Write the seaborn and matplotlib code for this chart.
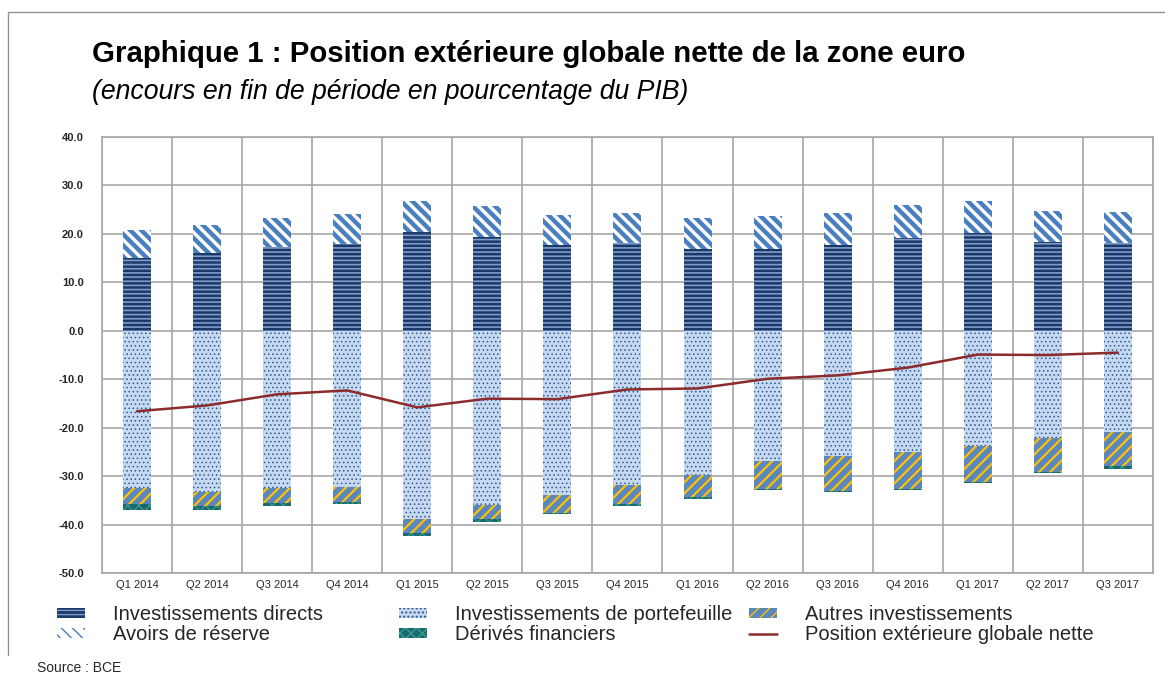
import numpy as np
import pandas as pd
import matplotlib
matplotlib.use("Agg")
import matplotlib.pyplot as plt
import seaborn as sns
from matplotlib.patches import Patch
from matplotlib.lines import Line2D

quarters = ["Q1 2014", "Q2 2014", "Q3 2014", "Q4 2014",
            "Q1 2015", "Q2 2015", "Q3 2015", "Q4 2015",
            "Q1 2016", "Q2 2016", "Q3 2016", "Q4 2016",
            "Q1 2017", "Q2 2017", "Q3 2017"]

# encours en % du PIB
directs = [15.0, 16.1, 17.4, 17.9, 20.3, 19.4, 17.7, 18.1, 16.9, 16.9, 17.7, 19.2, 20.1, 18.4, 18.2]
reserve = [5.8, 5.7, 5.9, 6.2, 6.5, 6.4, 6.3, 6.2, 6.3, 6.8, 6.6, 6.8, 6.7, 6.3, 6.3]
portefeuille = [-32.4, -33.3, -32.5, -32.3, -38.9, -36.0, -33.8, -31.8, -29.8, -26.9, -25.8, -25.1, -23.8, -22.1, -20.8]
autres = [-3.4, -2.9, -3.0, -3.0, -2.9, -2.9, -3.7, -4.0, -4.6, -5.8, -7.3, -7.6, -7.3, -7.0, -7.2]
derives = [-1.2, -0.8, -0.7, -0.5, -0.6, -0.5, -0.4, -0.4, -0.3, -0.2, -0.2, -0.2, -0.3, -0.3, -0.6]
position_nette = [-16.6, -15.4, -13.1, -12.3, -15.8, -14.0, -14.1, -12.1, -11.9, -9.9, -9.2, -7.6, -4.9, -5.0, -4.5]

yticks = np.arange(-50, 41, 10)

sns.set_style("white")
plt.rcParams["font.family"] = ["Liberation Sans", "DejaVu Sans"]

# style of each layer: face, hatch colour, hatch, hatch width
styles = {
    "directs": ("#1B3A6B", "#7F9CC8", "----", 1.2),
    "reserve": ("#FFFFFF", "#4A7FBF", "\\\\\\", 3.2),
    "portefeuille": ("#C6D9F1", "#2C5A93", "....", 0.6),
    "autres": ("#5B87BF", "#FFC000", "///", 1.6),
    "derives": ("#1E6670", "#2FA58A", "xxx", 0.8),
}

fig = plt.figure(figsize=(11.65, 6.75), dpi=100)
ax = fig.add_axes([0.0876, 0.151, 0.902, 0.646])

def stacked(values, bottom, key):
    face, hcol, hatch, hw = styles[key]
    sns.barplot(x=quarters, y=values, bottom=bottom, width=0.4, color=face,
                saturation=1, errorbar=None, ax=ax)
    for p in ax.containers[-1]:
        p.set_facecolor(face)
        p.set_edgecolor(hcol)
        p.set_linewidth(0)
        p.set_hatch(hatch)
        if hasattr(p, "set_hatch_linewidth"):
            p.set_hatch_linewidth(hw)
        p.set_zorder(3)

stacked(directs, 0, "directs")
stacked(reserve, directs, "reserve")
stacked(portefeuille, 0, "portefeuille")
stacked(autres, portefeuille, "autres")
stacked(derives, np.array(portefeuille) + np.array(autres), "derives")

sns.lineplot(x=np.arange(len(quarters)), y=position_nette, color="#8B2B2B",
             linewidth=1.8, ax=ax, zorder=4)

ax.set_xlim(-0.5, len(quarters) - 0.5)
ax.set_ylim(-50, 40)
ax.set_yticks(yticks)
ax.set_yticklabels([f"{v:.1f}" for v in yticks], fontsize=8, fontweight="bold")
ax.set_xticks(np.arange(len(quarters)))
ax.set_xticklabels(quarters, fontsize=8)
ax.set_xticks(np.arange(len(quarters) + 1) - 0.5, minor=True)
ax.grid(False)
ax.grid(True, which="minor", axis="x", color="#A6A6A6", linewidth=1.2, zorder=0)
ax.grid(True, which="major", axis="y", color="#A6A6A6", linewidth=1.2, zorder=0)
ax.tick_params(axis="x", which="both", length=0, pad=5)
ax.tick_params(axis="y", length=5, color="#A6A6A6", pad=8)
ax.set_axisbelow(True)
for s in ax.spines.values():
    s.set_color("#A6A6A6")
    s.set_linewidth(1.2)
ax.set_xlabel("")
ax.set_ylabel("")

# titles
fig.text(0.079, 0.920, "Graphique 1 : Position extérieure globale nette de la zone euro",
         fontsize=21.2, fontweight="bold", va="center", color="black")
fig.text(0.079, 0.864, "(encours en fin de période en pourcentage du PIB)",
         fontsize=19.2, style="italic", va="center", color="black")

# outer frame lines
fig.add_artist(Line2D([0.007, 1.0], [0.982, 0.982], color="#909090", lw=1))
fig.add_artist(Line2D([0.007, 0.007], [0.982, 0.03], color="#909090", lw=1))


def handle(key):
    face, hcol, hatch, hw = styles[key]
    p = Patch(facecolor=face, edgecolor=hcol, hatch=hatch, linewidth=0)
    if hasattr(p, "set_hatch_linewidth"):
        p.set_hatch_linewidth(hw)
    return p

leg_kw = dict(frameon=False, fontsize=14.5, handlelength=1.4, handleheight=0.4,
              handletextpad=1.4, labelspacing=0.05, loc="upper left")
l1 = fig.legend([handle("directs"), handle("reserve")],
                ["Investissements directs", "Avoirs de réserve"], **leg_kw)
l1.set_bbox_to_anchor((0.033, 0.130), transform=fig.transFigure)
l2 = fig.legend([handle("portefeuille"), handle("derives")],
                ["Investissements de portefeuille", "Dérivés financiers"], **leg_kw)
l2.set_bbox_to_anchor((0.327, 0.130), transform=fig.transFigure)
l3 = fig.legend([handle("autres"), Line2D([], [], color="#8B2B2B", lw=1.8)],
                ["Autres investissements", "Position extérieure globale nette"], **leg_kw)
l3.set_bbox_to_anchor((0.627, 0.130), transform=fig.transFigure)

fig.text(0.032, 0.0, "Source : BCE", fontsize=10, va="bottom")

fig.savefig("out.png", dpi=100)
